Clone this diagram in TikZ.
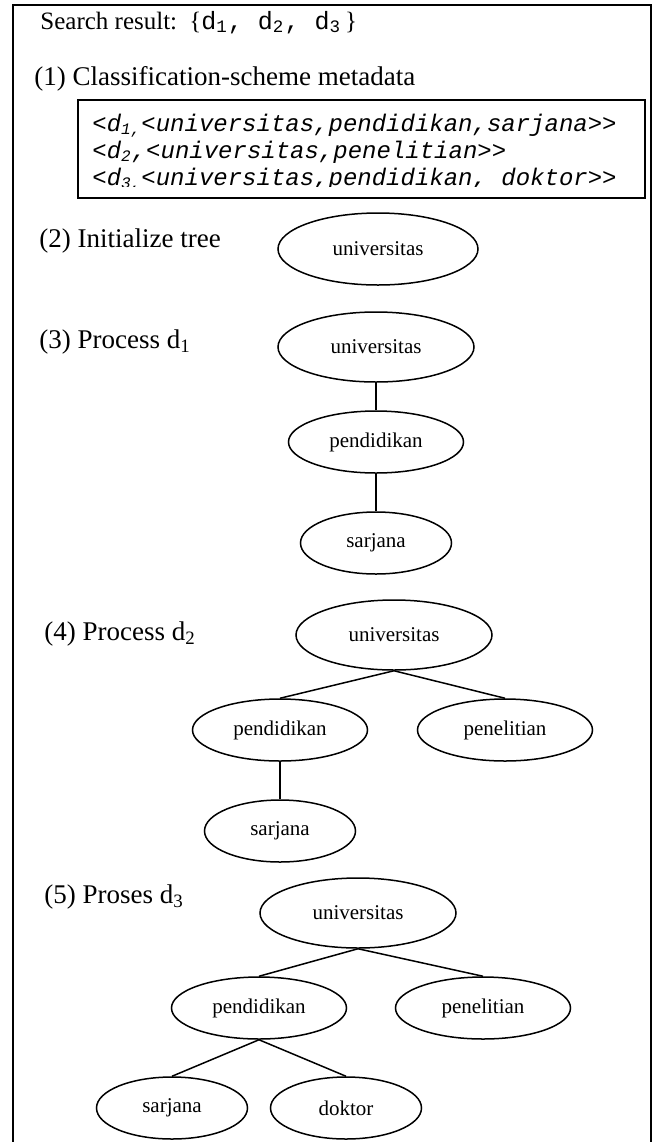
\documentclass[tikz,border=0pt]{standalone}
\usepackage{fontspec}
\setmainfont{Liberation Serif}
\setmonofont{Liberation Mono}
\usetikzlibrary{shapes.geometric,positioning}
\tikzset{
  outer/.style={draw,line width=1pt},
  lbl/.style={anchor=base west,inner sep=0pt,font=\fontsize{13.5}{15}\selectfont},
  metabox/.style={draw,line width=0.9pt,minimum width=283.5pt,minimum height=49pt,inner sep=0pt},
  metaline/.style={anchor=base west,inner sep=0pt,font=\fontsize{12}{13.5}\selectfont\ttfamily\itshape},
  cls/.style={ellipse,draw,line width=0.75pt,inner sep=0pt,font=\fontsize{10.5}{12}\selectfont},
  rootnode/.style={cls,minimum width=98pt,minimum height=35pt},
  midnode/.style={cls,minimum width=87.5pt,minimum height=31pt},
  leafnode/.style={cls,minimum width=75.5pt,minimum height=31pt},
  link/.style={line width=0.75pt},
}
\begin{document}
\begin{tikzpicture}[x=0.5pt,y=-0.5pt]
  \useasboundingbox (0,0) rectangle (663,1142);
  \draw[outer] (12.5,1150) |- (651,5) -- (651,1150);

  % headings
  \node[lbl,font=\fontsize{12.5}{14}\selectfont] (res) at (40,29)
    {Search result:\hspace{2pt} \{\texttt{d\textsubscript{1}, d\textsubscript{2}, d\textsubscript{3}}\hspace{2pt}\}};
  \node[lbl] (s1) at (34,85) {(1) Classification-scheme metadata};
  \node[lbl] (s2) at (39,247) {(2) Initialize tree};
  \node[lbl] (s3) at (39,348) {(3) Process d\textsubscript{1}};
  \node[lbl] (s4) at (44,640) {(4) Process d\textsubscript{2}};
  \node[lbl] (s5) at (44,903) {(5) Proses d\textsubscript{3}};

  % metadata box
  \node[metabox] (meta) at (361.5,149) {};
  \begin{scope}
    \clip (78,100) rectangle (645,186.5);
    \node[metaline] (m1) at (92,131) {<d\textsubscript{1,}<universitas,pendidikan,sarjana>>};
    \node[metaline] (m2) at (92,158) {<d\textsubscript{2},<universitas,penelitian>>};
    \node[metaline] (m3) at (92,185) {<d\textsubscript{3,}<universitas,pendidikan, doktor>>};
  \end{scope}

  % (2)
  \node[rootnode,minimum width=100pt,minimum height=36pt] (uni2) at (378,249) {universitas};

  % (3)
  \node[rootnode] (uni3) at (376,347) {universitas};
  \node[midnode] (pen3) at (376,442) {pendidikan};
  \node[leafnode] (sar3) at (376,543) {sarjana};
  \draw[link] (uni3) -- (pen3) (pen3) -- (sar3);

  % (4)
  \node[rootnode] (uni4) at (394,635) {universitas};
  \node[midnode] (pen4) at (280,730) {pendidikan};
  \node[midnode] (pel4) at (505,730) {penelitian};
  \node[leafnode] (sar4) at (280,831) {sarjana};
  \draw[link] (uni4.south) -- (pen4.north) (uni4.south) -- (pel4.north);
  \draw[link] (pen4) -- (sar4);

  % (5)
  \node[rootnode] (uni5) at (358,913) {universitas};
  \node[midnode] (pen5) at (259,1008) {pendidikan};
  \node[midnode] (pel5) at (483,1008) {penelitian};
  \node[leafnode] (sar5) at (172,1108) {sarjana};
  \node[leafnode] (dok5) at (346,1108) {doktor};
  \draw[link] (uni5.south) -- (pen5.north) (uni5.south) -- (pel5.north);
  \draw[link] (pen5.south) -- (sar5.north) (pen5.south) -- (dok5.north);
\end{tikzpicture}
\end{document}
